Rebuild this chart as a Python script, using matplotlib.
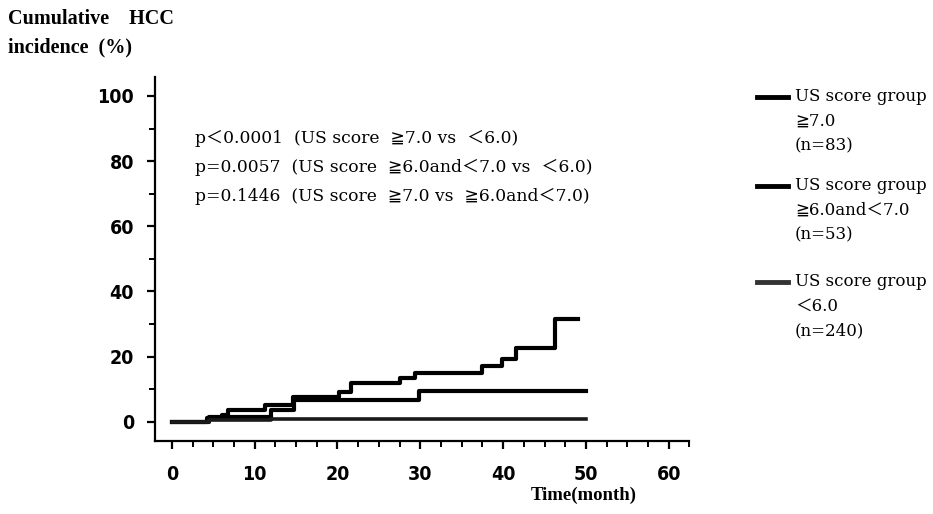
import matplotlib.pyplot as plt
from matplotlib.lines import Line2D
from matplotlib.ticker import MultipleLocator

# step curves: time in months, cumulative incidence in %
t_high = [0, 4.3, 6.0, 6.8, 11.2, 14.6, 20.2, 21.6, 27.5, 29.3, 37.5, 39.9, 41.5, 46.3, 49.0]
y_high = [0, 1.3, 2.2, 3.6, 5.1, 7.5, 9.2, 11.8, 13.3, 15.0, 17.1, 19.4, 22.7, 31.7, 31.7]

t_mid = [0, 4.5, 12.0, 14.8, 29.9, 50.0]
y_mid = [0, 1.5, 3.5, 6.8, 9.3, 9.3]

t_low = [0, 4.5, 12.0, 50.0]
y_low = [0, 0.5, 1.0, 1.0]

xticks = [0, 10, 20, 30, 40, 50, 60]
yticks = [0, 20, 40, 60, 80, 100]

group_labels = ['US score group\n≧7.0\n(n=83)',
                'US score group\n≧6.0and＜7.0\n(n=53)',
                'US score group\n＜6.0\n(n=240)']

p_lines = ['p＜0.0001  (US score  ≧7.0 vs  ＜6.0)',
           'p=0.0057  (US score  ≧6.0and＜7.0 vs  ＜6.0)',
           'p=0.1446  (US score  ≧7.0 vs  ≧6.0and＜7.0)']

serif = ['DejaVu Serif', 'DejaVu Sans', 'Noto Sans CJK JP']
bold_serif = ['Liberation Serif', 'DejaVu Serif']

fig = plt.figure(figsize=(9.33, 5.14), dpi=100)
ax = fig.add_axes([0.166, 0.142, 0.573, 0.708])

ax.step(t_high, y_high, where='post', color='black', lw=3.0)
ax.step(t_mid, y_mid, where='post', color='black', lw=3.0)
ax.step(t_low, y_low, where='post', color='#1a1a1a', lw=2.6)

ax.set_xlim(-2.05, 62.5)
ax.set_ylim(-5.9, 105.8)
ax.set_xticks(xticks)
ax.set_yticks(yticks)
ax.xaxis.set_minor_locator(MultipleLocator(2.5))
ax.yaxis.set_minor_locator(MultipleLocator(10))

for edge in ['right', 'top']:
    ax.spines[edge].set_visible(False)
for edge in ['left', 'bottom']:
    ax.spines[edge].set_linewidth(1.6)

ax.tick_params(which='major', length=6, width=1.6, direction='out')
ax.tick_params(which='minor', length=4, width=1.4, direction='out')
ax.tick_params(axis='x', pad=11)
ax.tick_params(axis='y', pad=9)
for lab in ax.get_xticklabels() + ax.get_yticklabels():
    lab.set_family('DejaVu Sans')
    lab.set_stretch('condensed')
    lab.set_fontweight('bold')
    lab.set_fontsize(14)

# p-values inside the plot
for i, txt in enumerate(p_lines):
    ax.text(2.8, 87.0 - i * 8.9, txt, family=serif, fontsize=12.3, va='center', ha='left')

# axis titles
fig.text(0.009, 0.963, 'Cumulative    HCC', family=bold_serif, fontweight='bold',
         fontsize=14.5, va='center', ha='left')
fig.text(0.009, 0.908, 'incidence  (%)', family=bold_serif, fontweight='bold',
         fontsize=14.5, va='center', ha='left')
fig.text(0.626, 0.036, 'Time(month)', family=bold_serif, fontweight='bold',
         fontsize=13.5, va='center', ha='center')

# hand-made legend on the right
legend_y = [97, 186, 282]
colors = ['black', 'black', '#333333']
for yy, lab, c in zip(legend_y, group_labels, colors):
    yf = 1 - yy / 514
    fig.add_artist(Line2D([757 / 933, 788 / 933], [yf, yf], color=c, lw=3.5,
                          transform=fig.transFigure))
    fig.text(795 / 933, 1 - (yy - 9) / 514, lab, family=serif, fontsize=12,
             va='top', ha='left', linespacing=1.6)

fig.savefig('out.png', dpi=100)
